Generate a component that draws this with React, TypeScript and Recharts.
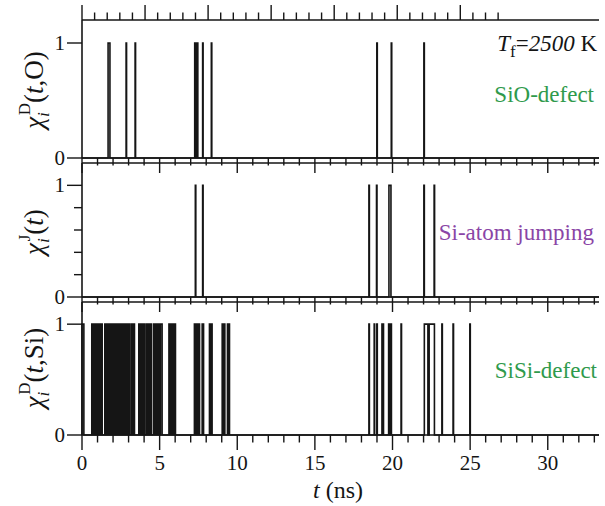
import { LineChart, Line, XAxis, YAxis, ReferenceLine } from 'recharts';

const W = 605;
const H = 506;
const INK = '#151515';
const SERIF = '"Liberation Serif", "Times New Roman", Times, serif';
const GREEN = '#2f9a4c';
const PURPLE = '#8a45a6';

const T_MAX = 33.3;
const minorTicks = Array.from({ length: 34 }, (_, i) => i);
const yTicks = [0, 1];
const yTicksFine = [0, 0.2, 0.4, 0.6, 0.8, 1];

// [start, end] of each interval where the indicator is 1 (ns)
const sioPulses: [number, number][] = [
  [1.68, 1.8], [2.84, 2.87], [3.42, 3.45], [7.26, 7.33], [7.38, 7.46],
  [7.77, 7.8], [8.33, 8.36], [18.99, 19.02], [19.92, 19.95], [22.02, 22.05],
];

const jumpPulses: [number, number][] = [
  [7.3, 7.33], [7.77, 7.8], [18.48, 18.51], [18.97, 19.0], [19.77, 19.9],
  [22.02, 22.05], [22.68, 22.71],
];

const sisiPulses: [number, number][] = [
  [0, 0.12],
  [0.63, 0.68], [0.74, 0.8], [0.84, 0.88],
  [0.95, 1.0], [1.05, 1.12], [1.17, 1.22], [1.26, 1.3],
  [1.47, 1.52], [1.56, 1.62], [1.66, 1.7], [1.75, 1.8], [1.84, 1.9], [1.94, 1.99],
  [2.03, 2.08], [2.12, 2.18], [2.22, 2.27], [2.31, 2.36], [2.4, 2.46], [2.5, 2.55],
  [2.59, 2.64], [2.68, 2.74], [2.78, 2.83], [2.87, 2.92], [2.96, 3.06],
  [3.17, 3.22], [3.27, 3.32], [3.35, 3.38],
  [3.66, 3.71], [3.76, 3.81], [3.86, 3.91], [3.95, 4.02],
  [4.13, 4.18], [4.23, 4.28], [4.33, 4.38], [4.42, 4.46],
  [4.6, 4.65], [4.7, 4.75], [4.8, 4.85], [4.9, 4.95],
  [5.05, 5.16], [5.6, 5.66],
  [5.76, 5.81], [5.86, 5.9], [5.95, 6.02],
  [7.24, 7.3], [7.34, 7.4], [7.44, 7.5], [7.53, 7.57],
  [7.74, 7.77], [7.8, 7.83],
  [8.21, 8.25], [8.3, 8.38],
  [9.03, 9.07], [9.15, 9.2], [9.37, 9.42], [9.46, 9.5],
  [18.48, 18.51], [18.82, 18.85], [18.99, 19.02], [19.32, 19.36], [19.39, 19.42],
  [19.75, 19.8], [19.86, 19.93], [20.55, 20.58],
  [22.05, 22.28], [22.36, 22.7],
  [23.18, 23.21], [23.9, 23.93], [24.98, 25.01],
];

const toSteps = (pulses: [number, number][]) => {
  const pts = [{ t: 0, v: 0 }];
  for (const [s, e] of pulses) {
    pts.push({ t: s, v: 0 }, { t: s, v: 1 }, { t: e, v: 1 }, { t: e, v: 0 });
  }
  pts.push({ t: T_MAX, v: 0 });
  return pts;
};

const BottomTick = (props: any) => {
  const { x, y, payload, showLabel } = props;
  const major = payload.value % 5 === 0;
  return (
    <g>
      <line x1={x} x2={x} y1={y} y2={y + (major ? 15 : 7.5)} stroke={INK} strokeWidth={1.4} />
      {showLabel && major && (
        <text x={x} y={y + 35} textAnchor="middle" fontSize={21} fill={INK} style={{ fontFamily: SERIF }}>
          {payload.value}
        </text>
      )}
    </g>
  );
};

const TopTick = (props: any) => {
  const { x, y, payload } = props;
  const major = payload.value % 5 === 0;
  return <line x1={x} x2={x} y1={y} y2={y - (major ? 15 : 7.5)} stroke={INK} strokeWidth={1.4} />;
};

const LeftTick = (props: any) => {
  const { x, y, payload } = props;
  const major = payload.value === 0 || payload.value === 1;
  return (
    <g>
      <line x1={x - (major ? 15 : 8)} x2={x} y1={y} y2={y} stroke={INK} strokeWidth={1.4} />
      {major && (
        <text x={x - 17} y={y} dy={7} textAnchor="end" fontSize={21} fill={INK} style={{ fontFamily: SERIF }}>
          {payload.value}
        </text>
      )}
    </g>
  );
};

const axisLine = { stroke: INK, strokeWidth: 1.6 };

interface PanelProps {
  data: { t: number; v: number }[];
  top: number;
  bottom: number;
  fineY?: boolean;
  topTicks?: boolean;
  labels?: boolean;
}

const Panel = ({ data, top, bottom, fineY, topTicks, labels }: PanelProps) => {
  const xHeight = labels ? 50 : 20;
  const topAxisHeight = topTicks ? 10 : 0;
  return (
    <div style={{ position: 'absolute', left: 0, top: 0 }}>
      <LineChart
        width={W}
        height={H}
        data={data}
        margin={{ top: top - topAxisHeight, right: 6, bottom: H - bottom - xHeight, left: 52 }}
      >
        <XAxis
          dataKey="t"
          type="number"
          domain={[0, T_MAX]}
          ticks={minorTicks}
          interval={0}
          height={xHeight}
          tickSize={0}
          tickMargin={0}
          axisLine={axisLine}
          tick={(p: any) => <BottomTick {...p} showLabel={labels} />}
        />
        {topTicks && (
          <XAxis
            xAxisId="top"
            orientation="top"
            type="number"
            domain={[0, T_MAX]}
            ticks={minorTicks}
            interval={0}
            height={topAxisHeight}
            tickSize={0}
            tickMargin={0}
            axisLine={axisLine}
            tick={(p: any) => <TopTick {...p} />}
          />
        )}
        <YAxis
          type="number"
          domain={[0, 1.2]}
          ticks={fineY ? yTicksFine : yTicks}
          interval={0}
          width={30}
          tickSize={0}
          tickMargin={0}
          axisLine={axisLine}
          tick={(p: any) => <LeftTick {...p} />}
        />
        <YAxis
          yAxisId="right"
          orientation="right"
          type="number"
          domain={[0, 1.2]}
          width={0}
          tick={false}
          tickLine={false}
          axisLine={axisLine}
        />
        {!topTicks && <ReferenceLine y={1.2} stroke={INK} strokeWidth={1.6} />}
        <Line
          dataKey="v"
          type="linear"
          stroke={INK}
          strokeWidth={1.6}
          dot={false}
          activeDot={false}
          isAnimationActive={false}
        />
      </LineChart>
    </div>
  );
};

const App = () => {
  const big = 23;
  const sub = 17;
  const ylab = 27;
  return (
    <div style={{ position: 'absolute', left: 0, top: 0, width: W, height: H, background: '#fff' }}>
      <Panel data={toSteps(sioPulses)} top={20} bottom={158} topTicks />
      <Panel data={toSteps(jumpPulses)} top={163} bottom={297} fineY />
      <Panel data={toSteps(sisiPulses)} top={302} bottom={435} labels />
      <svg
        width={W}
        height={H}
        style={{ position: 'absolute', left: 0, top: 0, pointerEvents: 'none', fontFamily: SERIF }}
      >
        <text x={597} y={51} textAnchor="end" fontSize={big} fill={INK}>
          <tspan fontStyle="italic">T</tspan>
          <tspan fontSize={sub} dy={6}>f</tspan>
          <tspan dy={-6}>=</tspan>
          <tspan fontStyle="italic">2500</tspan>
          <tspan> K</tspan>
        </text>
        <text x={594} y={102} textAnchor="end" fontSize={big} fill={GREEN}>SiO-defect</text>
        <text x={594} y={240} textAnchor="end" fontSize={big} fill={PURPLE}>Si-atom jumping</text>
        <text x={597} y={378} textAnchor="end" fontSize={big} fill={GREEN}>SiSi-defect</text>

        <text transform="translate(43,90) rotate(-90)" textAnchor="middle" fontSize={ylab} fill={INK}>
          <tspan fontStyle="italic">χ</tspan>
          <tspan fontSize={sub} fontStyle="italic" dy={6}>i</tspan>
          <tspan fontSize={sub} dx={-3} dy={-19}>D</tspan>
          <tspan dy={13}>(</tspan>
          <tspan fontStyle="italic">t</tspan>
          <tspan>,O)</tspan>
        </text>
        <text transform="translate(43,232) rotate(-90)" textAnchor="middle" fontSize={ylab} fill={INK}>
          <tspan fontStyle="italic">χ</tspan>
          <tspan fontSize={sub} fontStyle="italic" dy={6}>i</tspan>
          <tspan fontSize={sub} dx={-3} dy={-19}>J</tspan>
          <tspan dy={13}>(</tspan>
          <tspan fontStyle="italic">t</tspan>
          <tspan>)</tspan>
        </text>
        <text transform="translate(43,368) rotate(-90)" textAnchor="middle" fontSize={ylab} fill={INK}>
          <tspan fontStyle="italic">χ</tspan>
          <tspan fontSize={sub} fontStyle="italic" dy={6}>i</tspan>
          <tspan fontSize={sub} dx={-3} dy={-19}>D</tspan>
          <tspan dy={13}>(</tspan>
          <tspan fontStyle="italic">t</tspan>
          <tspan>,Si)</tspan>
        </text>

        <text x={338} y={498} textAnchor="middle" fontSize={24} fill={INK}>
          <tspan fontStyle="italic">t</tspan>
          <tspan> (ns)</tspan>
        </text>
      </svg>
    </div>
  );
};

export default App;
